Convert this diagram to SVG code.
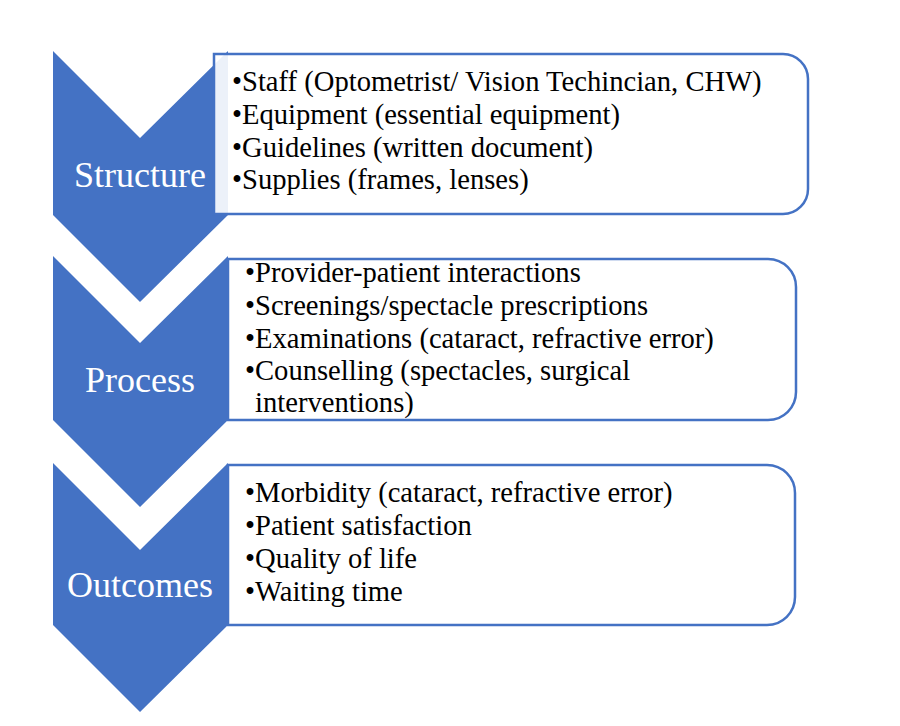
<svg xmlns="http://www.w3.org/2000/svg" width="900" height="726" viewBox="0 0 900 726">
  <style>
    .scv-chev { fill: #4472C4; }
    .scv-box { fill: #FFFFFF; fill-opacity: 0.9; stroke: #4472C4; stroke-width: 2.5; }
    .scv-head { font-family: "Liberation Serif", "Times New Roman", serif; font-size: 36px; fill: #FFFFFF; text-anchor: middle; }
    .scv-txt { font-family: "Liberation Serif", "Times New Roman", serif; font-size: 28.6px; fill: #000000; }
  </style>
  <rect width="900" height="726" fill="#FFFFFF"/>
  <g id="connectors"></g>

  <g id="structure">
    <polygon class="scv-chev" points="53,51 140,138 228,51 228,215 140,302 53,215"/>
    <text class="scv-head" x="140" y="187">Structure</text>
  </g>
  <g id="structure-list">
    <path class="scv-box" d="M214,54 H783 A25,25 0 0 1 808,79 V189 A25,25 0 0 1 783,214 H214 Z"/>
    <text class="scv-txt" x="232" y="91">•Staff (Optometrist/ Vision Techincian, CHW)</text>
    <text class="scv-txt" x="232" y="124">•Equipment (essential equipment)</text>
    <text class="scv-txt" x="232" y="157">•Guidelines (written document)</text>
    <text class="scv-txt" x="232" y="189">•Supplies (frames, lenses)</text>
  </g>

  <g id="process">
    <polygon class="scv-chev" points="53,256 140,343 228,256 228,420 140,507 53,420"/>
    <text class="scv-head" x="140" y="392">Process</text>
  </g>
  <g id="process-list">
    <path class="scv-box" d="M228,259 H768 A28,28 0 0 1 796,287 V392 A28,28 0 0 1 768,420 H228 Z"/>
    <text class="scv-txt" x="245" y="282">•Provider-patient interactions</text>
    <text class="scv-txt" x="245" y="315">•Screenings/spectacle prescriptions</text>
    <text class="scv-txt" x="245" y="348">•Examinations (cataract, refractive error)</text>
    <text class="scv-txt" x="245" y="380">•Counselling (spectacles, surgical</text>
    <text class="scv-txt" x="255" y="412">interventions)</text>
  </g>

  <g id="outcomes">
    <polygon class="scv-chev" points="53,463 140,550 228,463 228,625 140,712 53,625"/>
    <text class="scv-head" x="140" y="597">Outcomes</text>
  </g>
  <g id="outcomes-list">
    <path class="scv-box" d="M228,465 H767 A28,28 0 0 1 795,493 V597 A28,28 0 0 1 767,625 H228 Z"/>
    <text class="scv-txt" x="245" y="502">•Morbidity (cataract, refractive error)</text>
    <text class="scv-txt" x="245" y="535">•Patient satisfaction</text>
    <text class="scv-txt" x="245" y="568">•Quality of life</text>
    <text class="scv-txt" x="245" y="601">•Waiting time</text>
  </g>
</svg>
